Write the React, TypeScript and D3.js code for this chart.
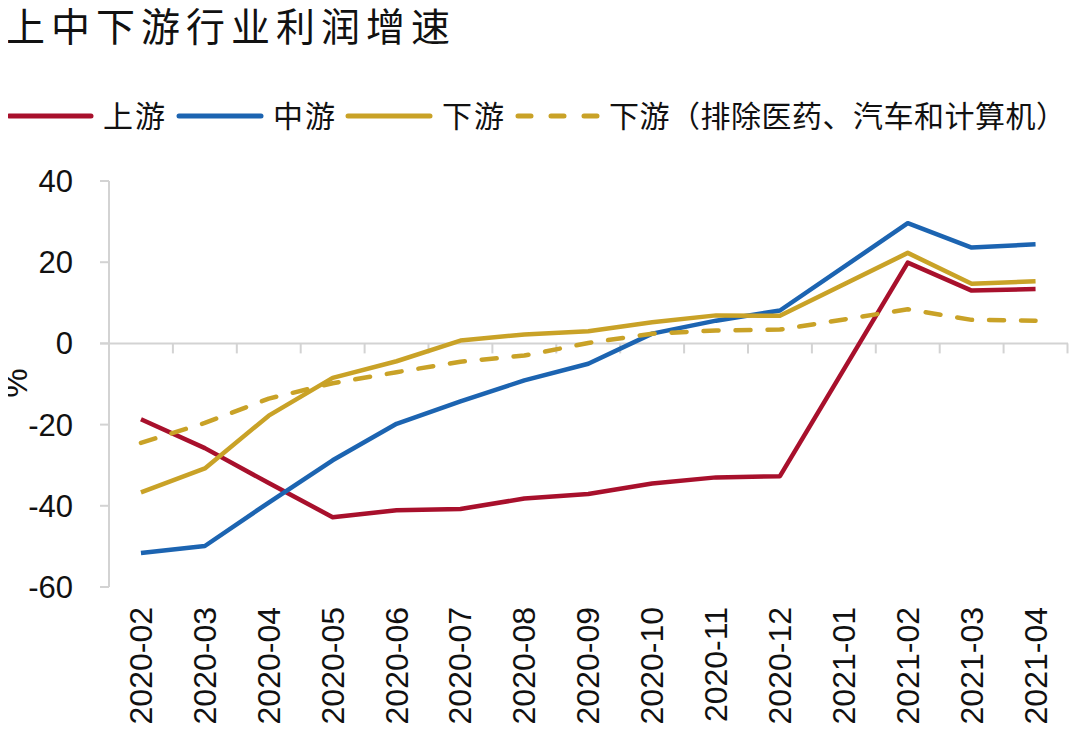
import { useEffect, useRef } from "react";
import * as d3 from "d3";

// chart data (2021-01 has no value)
const months = [
  "2020-02", "2020-03", "2020-04", "2020-05", "2020-06", "2020-07", "2020-08",
  "2020-09", "2020-10", "2020-11", "2020-12", "2021-01", "2021-02", "2021-03", "2021-04",
];
const upstream = [-18.7, -25.8, -34.4, -42.8, -41.1, -40.8, -38.2, -37.1, -34.5, -33.0, -32.7, null, 19.9, 13.0, 13.4];
const midstream = [-51.6, -49.9, -39.2, -28.8, -19.8, -14.3, -9.1, -5.0, 2.4, 5.6, 8.1, null, 29.6, 23.6, 24.4];
const downstream = [-36.7, -30.8, -17.8, -8.5, -4.4, 0.7, 2.2, 3.0, 5.2, 6.9, 6.8, null, 22.3, 14.7, 15.3];
const downstreamEx = [-24.5, -19.6, -13.6, -9.8, -7.1, -4.5, -3.0, 0.1, 2.4, 3.2, 3.4, null, 8.4, 5.8, 5.6];
const yTicks = [40, 20, 0, -20, -40, -60];

type Series = { name: string; values: (number | null)[]; color: string; dashed?: boolean };

const red = "#A8102C";
const blue = "#1C64B1";
const gold = "#C9A227";

const series: Series[] = [
  { name: "上游", values: upstream, color: red },
  { name: "中游", values: midstream, color: blue },
  { name: "下游", values: downstream, color: gold },
  { name: "下游（排除医药、汽车和计算机）", values: downstreamEx, color: gold, dashed: true },
];

const width = 1080;
const height = 733;
const numFont = "'Liberation Sans', Arial, sans-serif";
const cjkFont = "'Noto Sans CJK SC', sans-serif";
const axisColor = "#d3d3d3";

const App = () => {
  const svgRef = useRef<SVGSVGElement | null>(null);

  useEffect(() => {
    const svg = d3.select(svgRef.current);
    svg.selectAll("*").remove();

    const x = d3.scaleBand<string>().domain(months).range([109, 1067.5]).padding(0);
    const y = d3.scaleLinear().domain([-60, 40]).range([587, 181]);
    const cx = (m: string) => (x(m) as number) + x.bandwidth() / 2;

    // title
    svg.append("text")
      .attr("x", 6).attr("y", 41)
      .style("font", `39px ${cjkFont}`)
      .attr("letter-spacing", 6)
      .attr("fill", "#111")
      .text("上中下游行业利润增速");

    // legend
    const legendX = [7, 177, 346, 516];
    const legend = svg.append("g");
    series.forEach((s, i) => {
      const g = legend.append("g").attr("transform", `translate(${legendX[i]},116)`);
      g.append("line")
        .attr("x1", 2).attr("x2", 84)
        .attr("stroke", s.color)
        .attr("stroke-width", 5)
        .attr("stroke-linecap", "round")
        .attr("stroke-dasharray", s.dashed ? "13,20" : null);
      g.append("text")
        .attr("x", s.dashed ? 93 : 96).attr("y", 11)
        .style("font", `30px ${cjkFont}`)
        .attr("letter-spacing", s.dashed ? 0.5 : 2)
        .attr("fill", "#111")
        .text(s.name);
    });

    // y axis
    const yAxis = svg.append("g");
    yAxis.append("line")
      .attr("x1", 109).attr("x2", 109)
      .attr("y1", y(40)).attr("y2", y(-60))
      .attr("stroke", axisColor).attr("stroke-width", 2);
    yAxis.selectAll("line.tick")
      .data(yTicks)
      .enter().append("line")
      .attr("class", "tick")
      .attr("x1", 100).attr("x2", 109)
      .attr("y1", d => y(d)).attr("y2", d => y(d))
      .attr("stroke", axisColor).attr("stroke-width", 2);
    yAxis.selectAll("text")
      .data(yTicks)
      .enter().append("text")
      .attr("x", 73).attr("y", d => y(d) + 11)
      .attr("text-anchor", "end")
      .style("font", `31px ${numFont}`)
      .attr("fill", "#111")
      .text(d => d);

    svg.append("text")
      .attr("transform", `translate(27,383) rotate(-90)`)
      .attr("text-anchor", "middle")
      .style("font", `33px ${numFont}`)
      .attr("fill", "#111")
      .text("%");

    // x axis on zero line
    const xAxis = svg.append("g");
    xAxis.append("line")
      .attr("x1", 100).attr("x2", 1068)
      .attr("y1", y(0)).attr("y2", y(0))
      .attr("stroke", axisColor).attr("stroke-width", 2);
    xAxis.selectAll("line.tick")
      .data(months.slice(1).concat(["end"]))
      .enter().append("line")
      .attr("class", "tick")
      .attr("x1", (d, i) => 109 + x.bandwidth() * (i + 1))
      .attr("x2", (d, i) => 109 + x.bandwidth() * (i + 1))
      .attr("y1", y(0)).attr("y2", y(0) + 10)
      .attr("stroke", axisColor).attr("stroke-width", 2);
    xAxis.selectAll("text")
      .data(months)
      .enter().append("text")
      .attr("transform", d => `translate(${cx(d) + 11},607) rotate(-90)`)
      .attr("text-anchor", "end")
      .style("font", `32px ${numFont}`)
      .attr("fill", "#111")
      .text(d => d);

    // lines (gap month is skipped, points joined directly)
    const line = d3.line<{ m: string; v: number }>()
      .x(d => cx(d.m))
      .y(d => y(d.v));

    series.forEach(s => {
      const pts = months
        .map((m, i) => ({ m, v: s.values[i] }))
        .filter(d => d.v !== null) as { m: string; v: number }[];
      svg.append("path")
        .datum(pts)
        .attr("fill", "none")
        .attr("stroke", s.color)
        .attr("stroke-width", 4.5)
        .attr("stroke-linejoin", "round")
        .attr("stroke-linecap", s.dashed ? "round" : "butt")
        .attr("stroke-dasharray", s.dashed ? "15,17" : null)
        .attr("d", line);
    });
  }, []);

  return <svg ref={svgRef} width={width} height={height} style={{ display: "block", margin: -8 }}></svg>;
};

export default App;
